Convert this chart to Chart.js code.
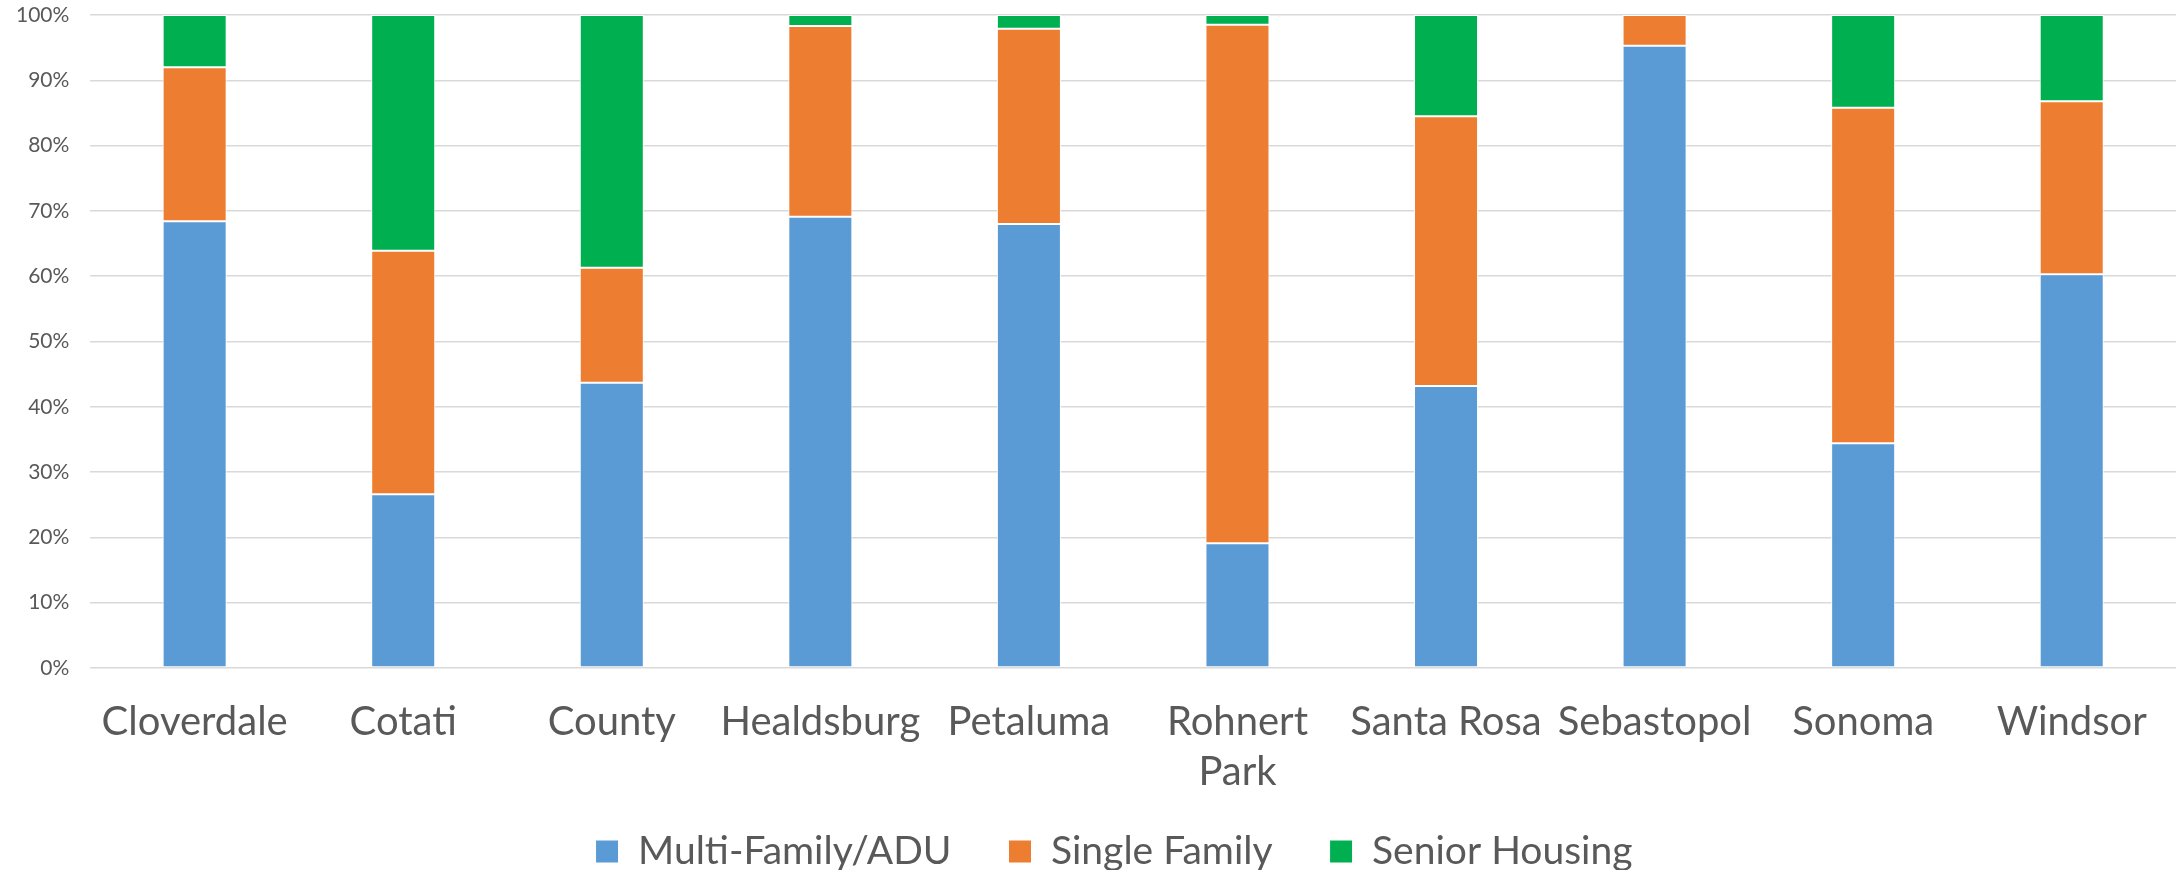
<!DOCTYPE html>
<html lang="en">
<head>
  <meta charset="UTF-8" />
  <title>Housing Mix by Jurisdiction</title>
  <script src="https://cdn.jsdelivr.net/npm/chart.js"></script>
  <style>
    html, body { margin: 0; padding: 0; background: #fff; }
    #wrap { width: 2178px; height: 870px; }
  </style>
</head>
<body>
  <div id="wrap"><canvas id="grafico"></canvas></div>

  <script>
    // categorias (Rohnert Park quebra em duas linhas)
    const jurisdictions = ['Cloverdale', 'Cotati', 'County', 'Healdsburg', 'Petaluma',
      ['Rohnert', 'Park'], 'Santa Rosa', 'Sebastopol', 'Sonoma', 'Windsor'];

    // shares (fraction of total units)
    const multiFamily   = [0.684, 0.266, 0.437, 0.691, 0.680, 0.191, 0.432, 0.953, 0.344, 0.603];
    const singleFamily  = [0.236, 0.373, 0.176, 0.292, 0.299, 0.794, 0.413, 0.047, 0.514, 0.265];
    const seniorHousing = [0.080, 0.361, 0.387, 0.017, 0.021, 0.015, 0.155, 0.000, 0.142, 0.132];

    const yTicks = [0, 0.1, 0.2, 0.3, 0.4, 0.5, 0.6, 0.7, 0.8, 0.9, 1];

    const fonte = 'Lato, "Open Sans", sans-serif';
    const cinza = '#595959';
    const invisivel = 'rgba(0,0,0,0)';

    // legenda sobe um pouco para ficar perto dos rótulos, sem perder o espaçamento horizontal
    const ajustarLegenda = {
      id: 'ajustarLegenda',
      afterLayout(chart) {
        const lg = chart.legend;
        lg.top -= 22; lg.bottom -= 22;
        lg.left += 18; lg.right += 18;
      }
    };

    new Chart(document.getElementById('grafico'), {
      type: 'bar',
      data: {
        labels: jurisdictions,
        datasets: [
          { label: 'Multi-Family/ADU', data: multiFamily, backgroundColor: '#5B9BD5' },
          { label: 'Single Family', data: singleFamily, backgroundColor: '#ED7D31' },
          { label: 'Senior Housing', data: seniorHousing, backgroundColor: '#00B050' }
        ].map(d => ({ ...d, borderColor: '#ffffff', borderWidth: 1, borderSkipped: false,
                      categoryPercentage: 1, barPercentage: 0.307 }))
      },
      options: {
        responsive: true,
        maintainAspectRatio: false,
        animation: false,
        layout: { padding: { left: 16, right: 2, top: 15, bottom: -33 } },
        scales: {
          x: {
            stacked: true,
            // espaço entre eixo e rótulos via tickLength (padding mexe no layout)
            grid: { display: false, drawTicks: true, tickLength: 29 },
            border: { display: false },
            ticks: {
              color: cinza, padding: 0, maxRotation: 0, autoSkip: false,
              font: { family: fonte, size: 40, lineHeight: 1.25 }
            }
          },
          y: {
            stacked: true,
            min: 0, max: 1,
            afterBuildTicks: s => { s.ticks = yTicks.map(v => ({ value: v })); },
            grid: { color: '#d9d9d9', lineWidth: 1.5, drawTicks: true, tickLength: 21, tickColor: invisivel },
            border: { display: false },
            ticks: {
              color: cinza, padding: 0,
              font: { family: fonte, size: 21, lineHeight: '1px' },
              callback: v => Math.round(v * 100) + '%'
            }
          }
        },
        plugins: {
          legend: {
            position: 'bottom',
            labels: {
              color: cinza, boxWidth: 23, boxHeight: 23, padding: 57,
              font: { family: fonte, size: 39 }
            }
          },
          tooltip: { enabled: false }
        }
      },
      plugins: [ajustarLegenda]
    });
  </script>
</body>
</html>
